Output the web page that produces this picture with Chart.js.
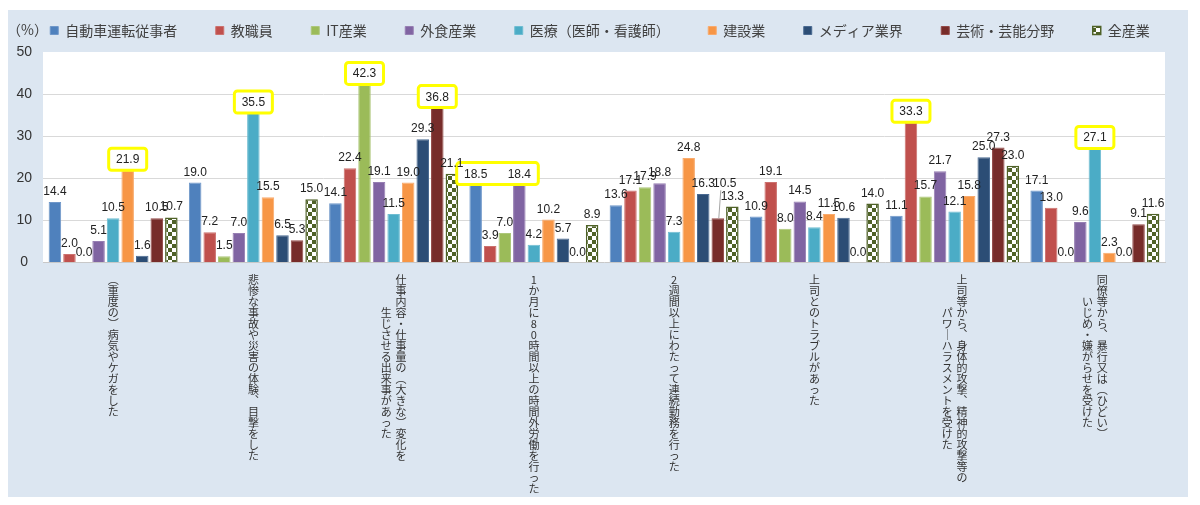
<!DOCTYPE html>
<html>
<head>
<meta charset="utf-8">
<script src="https://cdn.jsdelivr.net/npm/chart.js@4.4.1/dist/chart.umd.min.js"></script>
<style>
  html, body { margin: 0; background: #fff; overflow: hidden; }
  #page { position: relative; width: 1200px; height: 505px; }
  #panel { position: absolute; left: 8px; top: 10px; width: 1180px; height: 487px; background: #dce6f1; }
  #chartBox { position: absolute; left: 0; top: 0; width: 1200px; height: 505px; }
</style>
</head>
<body>
<div id="page">
  <div id="panel"></div>
  <div id="chartBox"><canvas id="chart"></canvas></div>
</div>
<script>
// categories: columns of the vertical label, right column first
const categories = [
    ["（重度の）病気やケガをした"],
    ["悲惨な事故や災害の体験、目撃をした"],
    ["仕事内容・仕事量の（大きな）変化を", "生じさせる出来事があった"],
    ["1か月に80時間以上の時間外労働を行った"],
    ["2週間以上にわたって連続勤務を行った"],
    ["上司とのトラブルがあった"],
    ["上司等から、身体的攻撃、精神的攻撃等の", "パワーハラスメントを受けた"],
    ["同僚等から、暴行又は（ひどい）", "いじめ・嫌がらせを受けた"]
];

const seriesNames = ["自動車運転従事者", "教職員", "IT産業", "外食産業", "医療（医師・看護師）",
    "建設業", "メディア業界", "芸術・芸能分野", "全産業"];

const driverData = [14.4, 19.0, 14.1, 18.5, 13.6, 10.9, 11.1, 17.1];
const teacherData = [2.0, 7.2, 22.4, 3.9, 17.1, 19.1, 33.3, 13.0];
const itData = [0.0, 1.5, 42.3, 7.0, 17.9, 8.0, 15.7, 0.0];
const foodData = [5.1, 7.0, 19.1, 18.4, 18.8, 14.5, 21.7, 9.6];
const medicalData = [10.5, 35.5, 11.5, 4.2, 7.3, 8.4, 12.1, 27.1];
const constructionData = [21.9, 15.5, 19.0, 10.2, 24.8, 11.5, 15.8, 2.3];
const mediaData = [1.6, 6.5, 29.3, 5.7, 16.3, 10.6, 25.0, 0.0];
const artsData = [10.5, 5.3, 36.8, 0.0, 10.5, 0.0, 27.3, 9.1];
const allIndustryData = [10.7, 15.0, 21.1, 8.9, 13.3, 14.0, 23.0, 11.6];

const yTicks = [0, 10, 20, 30, 40, 50];

// [category index, [series indexes]] that get the yellow frame
const highlightGroups = [[0, [5]], [1, [4]], [2, [2]], [2, [7]], [3, [0, 3]], [6, [1]], [7, [4]]];

const seriesData = [driverData, teacherData, itData, foodData, medicalData,
    constructionData, mediaData, artsData, allIndustryData];

const fillColors = ['#4f81bd', '#c0504d', '#9bbb59', '#8064a2', '#4bacc6', '#f79646', '#2c4d75', '#772c2a'];
const edgeColors = ['#6f97c9', '#cc716e', '#adc77a', '#977fb3', '#6fbdd2', '#f9aa6c', '#4a6a92', '#934a48'];

// vertical writing: swap a few glyphs for their vertical forms
const verticalForms = { '（': '︵', '）': '︶', '、': '︑', 'ー': '｜' };

function toVertical(columns) {
    const cols = columns.map(c => Array.from(c).map(ch => verticalForms[ch] || ch));
    if (cols.length === 1) return cols[0];
    const right = cols[0], left = cols[1];
    const shift = Math.round((right.length - left.length) / 2);
    return right.map((ch, i) => (left[i - shift] || '　') + '\u2004' + ch);
}

function checker() {
    const c = document.createElement('canvas');
    c.width = 8;
    c.height = 8;
    const g = c.getContext('2d');
    g.fillStyle = '#ffffff';
    g.fillRect(0, 0, 8, 8);
    g.fillStyle = '#4f6228';
    g.fillRect(0, 0, 4, 4);
    g.fillRect(4, 4, 4, 4);
    return g.createPattern(c, 'repeat');
}

const datasets = seriesNames.map((name, i) => ({
    label: name,
    data: seriesData[i],
    xAxisID: 'x',
    yAxisID: 'y',
    backgroundColor: i < 8 ? fillColors[i] : checker(),
    borderColor: i < 8 ? edgeColors[i] : '#4f6228',
    borderWidth: i < 8 ? 1 : 1.5,
    categoryPercentage: 0.934,
    barPercentage: 0.86
}));

const decorations = {
    id: 'decorations',
    beforeDraw(chart) {
        const { ctx, chartArea: a } = chart;
        ctx.save();
        ctx.fillStyle = '#ffffff';
        ctx.fillRect(a.left, a.top, a.right - a.left, a.bottom - a.top);
        ctx.restore();
    },
    afterDatasetsDraw(chart) {
        const ctx = chart.ctx;
        ctx.save();
        highlightGroups.forEach(([cat, list]) => {
            const bars = list.map(s => chart.getDatasetMeta(s).data[cat]);
            const left = Math.min(...bars.map(b => b.x)) - 19;
            const right = Math.max(...bars.map(b => b.x)) + 19;
            const bottom = Math.min(...bars.map(b => b.y));
            ctx.beginPath();
            ctx.roundRect(left, bottom - 22, right - left, 22, 3);
            ctx.fillStyle = '#ffffff';
            ctx.fill();
            ctx.lineWidth = 3;
            ctx.strokeStyle = '#ffff00';
            ctx.stroke();
        });
        ctx.font = '12px "Liberation Sans Narrow", "Liberation Sans", sans-serif';
        ctx.fillStyle = '#222222';
        ctx.textAlign = 'center';
        ctx.textBaseline = 'alphabetic';
        chart.data.datasets.forEach((ds, i) => {
            chart.getDatasetMeta(i).data.forEach((bar, j) => {
                let x = bar.x, y = bar.y - 7;
                // the crowded 10.5 in the 2-week group sits higher with a leader line
                if (i === 7 && j === 4) {
                    x += 7;
                    y -= 24;
                    ctx.beginPath();
                    ctx.moveTo(x - 4, y + 3);
                    ctx.lineTo(bar.x + 1, bar.y);
                    ctx.strokeStyle = '#a6a6a6';
                    ctx.lineWidth = 1;
                    ctx.stroke();
                }
                ctx.fillText(ds.data[j].toFixed(1), x, y);
            });
        });
        ctx.restore();
    },
    afterDraw(chart) {
        const ctx = chart.ctx;
        ctx.save();
        ctx.font = '14px "Noto Sans CJK JP", sans-serif';
        ctx.fillStyle = '#404040';
        ctx.textAlign = 'left';
        ctx.textBaseline = 'middle';
        ctx.fillText('（%）', 7, 30);
        ctx.restore();
    }
};

new Chart(document.getElementById('chart'), {
    type: 'bar',
    data: {
        labels: categories.map(toVertical),
        datasets: datasets
    },
    options: {
        responsive: true,
        maintainAspectRatio: false,
        animation: false,
        layout: {
            padding: { left: 0, right: 0, top: -15, bottom: -1.5 }
        },
        plugins: {
            legend: {
                position: 'top',
                labels: {
                    boxWidth: 8,
                    boxHeight: 8,
                    padding: 38.5,
                    color: '#404040',
                    font: { family: '"Noto Sans CJK JP", sans-serif', size: 14 }
                }
            },
            tooltip: { enabled: false }
        },
        scales: {
            x: {
                grid: { display: false, drawTicks: false },
                border: { display: true, color: '#c8c8c8' },
                ticks: {
                    autoSkip: false,
                    maxRotation: 0,
                    minRotation: 0,
                    padding: 12,
                    color: '#333333',
                    font: { family: '"Noto Sans CJK JP", sans-serif', size: 11, lineHeight: '11px' }
                }
            },
            y: {
                min: 0,
                max: 50,
                afterFit(scale) { scale.width = 43; },
                afterBuildTicks(scale) { scale.ticks = yTicks.map(v => ({ value: v })); },
                border: { display: false },
                grid: {
                    drawTicks: false,
                    color: ctx => (ctx.tick && (ctx.tick.value === 50 || ctx.tick.value === 0)) ? 'rgba(0,0,0,0)' : '#d9d9d9'
                },
                ticks: {
                    crossAlign: 'center',
                    padding: 11,
                    color: '#333333',
                    font: { family: '"Liberation Sans", sans-serif', size: 14 }
                }
            },
            // spacers: keep the plot inside the panel while the legend uses the full width
            xTop: {
                position: 'top',
                afterFit(scale) { scale.height = 4.5; },
                grid: { display: false, drawTicks: false },
                border: { display: false },
                ticks: { display: false }
            },
            yRight: {
                position: 'right',
                afterFit(scale) { scale.width = 35; },
                grid: { display: false, drawTicks: false },
                border: { display: false },
                ticks: { display: false }
            }
        }
    },
    plugins: [decorations]
});
</script>
</body>
</html>
